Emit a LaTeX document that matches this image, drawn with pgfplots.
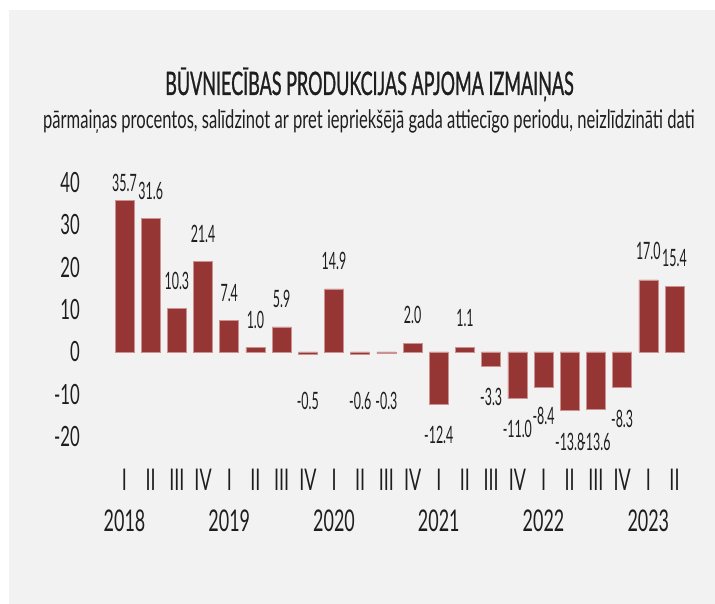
\documentclass[border=0pt]{standalone}
\usepackage{fontspec}
\setmainfont{Lato}[FakeStretch=0.6]
\newfontfamily\titlefont{Lato}[FakeStretch=0.555, FakeBold=0.8]
\newfontfamily\subfont{Lato}[FakeStretch=0.647]
\newfontfamily\lblfont{Lato}[FakeStretch=0.52]
\usepackage{pgfplots}
\pgfplotsset{compat=1.18}
\usepackage{pgfplotstable}
\definecolor{barred}{RGB}{149,54,52}
\definecolor{baredge}{RGB}{205,145,143}
\definecolor{bg}{RGB}{242,242,242}
\definecolor{txt}{RGB}{30,30,30}

\pgfplotstableread{
x y
0 35.7
1 31.6
2 10.3
3 21.4
4 7.4
5 1.0
6 5.9
7 -0.5
8 14.9
9 -0.6
10 -0.3
11 2.0
12 -12.4
13 1.1
14 -3.3
15 -11.0
16 -8.4
17 -13.8
18 -13.6
19 -8.3
20 17.0
21 15.4
}\bars

\pgfplotstableread{
x y label
0 39.86 35.7
1 38.09 31.6
2 16.86 10.3
3 27.83 21.4
4 13.92 7.4
5 7.55 1.0
6 12.5 5.9
7 -11.56 -0.5
8 21.58 14.9
9 -11.56 -0.6
10 -11.56 -0.3
11 8.73 2.0
12 -19.58 -12.4
13 8.02 1.1
14 -10.61 -3.3
15 -18.16 -11.0
16 -15.09 -8.4
17 -21.23 -13.8
18 -21.23 -13.6
19 -15.8 -8.3
20 23.82 17.0
21 22.17 15.4
}\labels

\begin{document}
\begin{tikzpicture}[x=1bp,y=1bp]
\fill[white] (0,0) rectangle (715,604);
\fill[bg] (9,0) rectangle (715,594);
\node[anchor=base, text=txt, inner sep=0pt] at (369.5,509) {\titlefont\fontsize{32.5}{34}\selectfont BŪVNIECĪBAS PRODUKCIJAS APJOMA IZMAIŅAS};
\node[anchor=base, text=txt, inner sep=0pt] at (369,475.7) {\subfont\fontsize{25.7}{28}\selectfont pārmaiņas procentos, salīdzinot ar pret iepriekšējā gada attiecīgo periodu, neizlīdzināti dati};
\begin{axis}[
  at={(98.31bp,146bp)}, anchor=south west,
  scale only axis, width=602.37bp, height=296.8bp,
  xmin=-1, xmax=22, ymin=-25, ymax=45,
  axis line style={draw=none},
  major tick length=0pt,
  clip=false,
  xtick={0,...,21},
  xticklabels={I,II,III,IV,I,II,III,IV,I,II,III,IV,I,II,III,IV,I,II,III,IV,I,II},
  xticklabel style={anchor=center, inner sep=0pt, yshift=-22bp, text=txt, font=\fontsize{30}{32}\selectfont},
  extra x ticks={0,4,8,12,16,20},
  extra x tick labels={2018,2019,2020,2021,2022,2023},
  extra x tick style={tick label style={yshift=-41bp}},
  ytick={-20,-10,0,10,20,30,40},
  yticklabels={-20,-10,0,10,20,30,40},
  yticklabel style={anchor=east, inner sep=0pt, xshift=-18.3bp, text=txt, font=\fontsize{28}{30}\selectfont},
]
\addplot[ybar, bar width=19bp, fill=barred, draw=baredge, line width=0.6pt] table[x=x,y=y]{\bars};
\addplot[only marks, mark=*, mark size=0pt, mark options={draw=none, fill=none, draw opacity=0, fill opacity=0},
  point meta=explicit symbolic, nodes near coords,
  nodes near coords style={anchor=center, inner sep=0pt, text=txt, text opacity=1, font=\lblfont\fontsize{24}{26}\selectfont}]
  table[x=x,y=y,meta=label]{\labels};
\end{axis}
\end{tikzpicture}
\end{document}
